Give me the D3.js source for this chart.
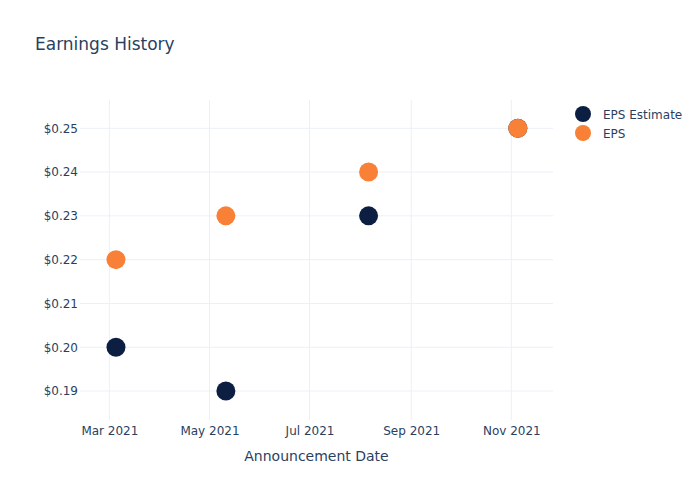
<!DOCTYPE html>
<html><head><meta charset="utf-8">
<script src="https://cdn.jsdelivr.net/npm/d3@7"></script>
<style>body{margin:0;background:#fff;font-family:"DejaVu Sans",sans-serif;}</style>
</head><body><svg id="c" width="700" height="500"></svg>
<script>
const dates = ["2021-03-05", "2021-05-11", "2021-08-06", "2021-11-05"];
const epsEstimate = [0.20, 0.19, 0.23, 0.25];
const eps = [0.22, 0.23, 0.24, 0.25];
const yTicks = [0.19, 0.20, 0.21, 0.22, 0.23, 0.24, 0.25];
const xTicks = ["2021-03-01", "2021-05-01", "2021-07-01", "2021-09-01", "2021-11-01"];
const seriesNames = ["EPS Estimate", "EPS"];
const colors = ["#0c1f43", "#f88137"];

const FONT = '"DejaVu Sans",sans-serif';
const parse = d3.utcParse("%Y-%m-%d");
const svg = d3.select("#c");
const L = 80, R = 553, T = 100, B = 420;
const x = d3.scaleUtc().domain([new Date(Date.UTC(2021,1,11,2)), new Date(Date.UTC(2021,10,26,10))]).range([L, R]);
const y = d3.scaleLinear().domain([0.18338, 0.25646]).range([B, T]);
const txt = "#2a3f5f", grid = "#ebf0f8";

// grid
svg.append("g").selectAll("line").data(yTicks).join("line")
  .attr("x1", L).attr("x2", R).attr("y1", d => y(d)).attr("y2", d => y(d))
  .attr("stroke", grid).attr("stroke-width", 1);
svg.append("g").selectAll("line").data(xTicks).join("line")
  .attr("x1", d => x(parse(d))).attr("x2", d => x(parse(d))).attr("y1", T).attr("y2", B)
  .attr("stroke", grid).attr("stroke-width", 1);

// axes
const yAxis = d3.axisLeft(y).tickValues(yTicks).tickFormat(d => "$" + d3.format(".2f")(d)).tickSize(0).tickPadding(2);
const gy = svg.append("g").attr("transform", `translate(${L},0)`).call(yAxis);
gy.select(".domain").remove();
gy.selectAll("text").attr("fill", txt).attr("font-size", 12).attr("font-family", FONT);

const xAxis = d3.axisBottom(x).tickValues(xTicks.map(parse)).tickFormat(d3.utcFormat("%b %Y")).tickSize(0).tickPadding(6);
const gx = svg.append("g").attr("transform", `translate(0,${B})`).call(xAxis);
gx.select(".domain").remove();
gx.selectAll("text").attr("fill", txt).attr("font-size", 12).attr("font-family", FONT);

// points
const series = [epsEstimate, eps];
series.forEach((vals, si) => {
  svg.append("g").selectAll("circle").data(vals).join("circle")
    .attr("cx", (d, i) => x(parse(dates[i]))).attr("cy", d => y(d)).attr("r", 9.5)
    .attr("fill", colors[si]);
});

// title
svg.append("text").attr("x", 35).attr("y", 50).attr("fill", txt).attr("font-size", 17)
  .attr("font-family", FONT).text("Earnings History");
svg.append("text").attr("x", (L + R) / 2).attr("y", 461).attr("text-anchor", "middle").attr("fill", txt)
  .attr("font-size", 14).attr("font-family", FONT).text("Announcement Date");

// legend
const lg = svg.append("g");
seriesNames.forEach((n, i) => {
  const yy = 114 + i * 19;
  lg.append("circle").attr("cx", 583).attr("cy", yy).attr("r", 8).attr("fill", colors[i]);
  lg.append("text").attr("x", 603).attr("y", yy + 4.5).attr("fill", txt).attr("font-size", 12)
    .attr("font-family", FONT).text(n);
});
</script></body></html>
